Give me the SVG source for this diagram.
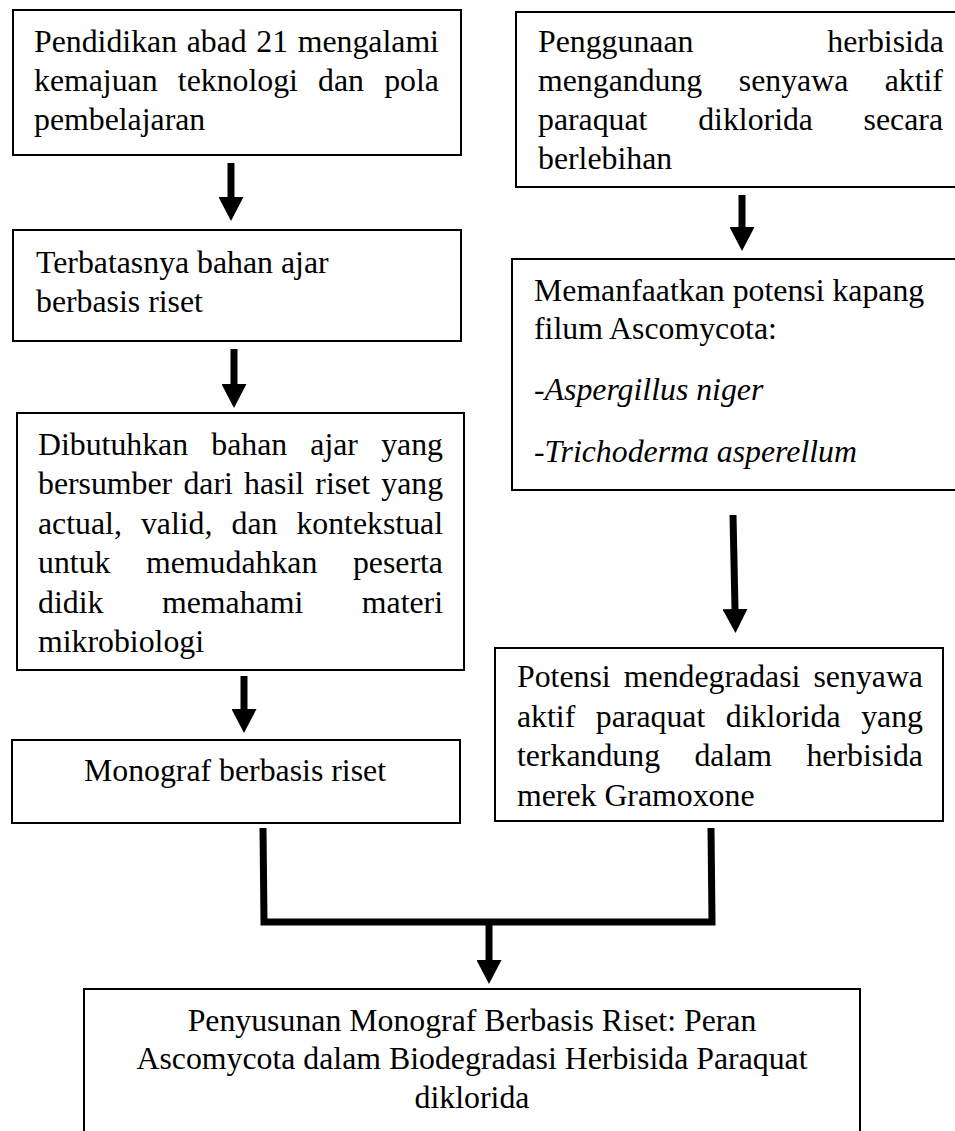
<svg xmlns="http://www.w3.org/2000/svg" width="955" height="1131" viewBox="0 0 955 1131">
<style>
.box{fill:#fff;stroke:#000;stroke-width:2}
text{font-family:"Liberation Serif","Times New Roman",serif;font-size:31.8px;fill:#000}
.it{font-style:italic}
.mid{text-anchor:middle}
.con{fill:none;stroke:#000;stroke-width:7}
</style>
<defs>
<marker id="ah" markerUnits="userSpaceOnUse" viewBox="0 0 24 25" markerWidth="24" markerHeight="25" refX="0" refY="12.5" orient="auto">
<path d="M0,0 L24,12.5 L0,25 Z" fill="#000"/>
</marker>
</defs>
<g id="connectors">
<line class="con" x1="231" y1="163" x2="231" y2="197" marker-end="url(#ah)"/>
<line class="con" x1="234" y1="349" x2="234" y2="384" marker-end="url(#ah)"/>
<line class="con" x1="244" y1="676" x2="244" y2="709" marker-end="url(#ah)"/>
<line class="con" x1="742" y1="195" x2="742" y2="227" marker-end="url(#ah)"/>
<line class="con" x1="733" y1="515" x2="735" y2="609" marker-end="url(#ah)"/>
<polyline class="con" points="263,828 264,922 712,922 711,828"/>
<line class="con" x1="489" y1="922" x2="489" y2="960" marker-end="url(#ah)"/>
</g>
<g id="n1">
<rect class="box" x="13" y="10" width="448" height="145"/>
<text y="52"><tspan x="34">Pendidikan</tspan><tspan x="186.7">abad</tspan><tspan x="256.3">21</tspan><tspan x="297.7">mengalami</tspan></text>
<text y="91"><tspan x="34">kemajuan</tspan><tspan x="177.8">teknologi</tspan><tspan x="318.1">dan</tspan><tspan x="384.2">pola</tspan></text>
<text x="34" y="130">pembelajaran</text>
</g>
<g id="n2">
<rect class="box" x="13" y="230" width="448" height="111"/>
<text x="36" y="273">Terbatasnya bahan ajar</text>
<text x="36" y="312">berbasis riset</text>
</g>
<g id="n3">
<rect class="box" x="17" y="413" width="447" height="257"/>
<text y="455"><tspan x="38">Dibutuhkan</tspan><tspan x="211.3">bahan</tspan><tspan x="310.3">ajar</tspan><tspan x="381.2">yang</tspan></text>
<text y="494.4"><tspan x="38">bersumber</tspan><tspan x="183.4">dari</tspan><tspan x="244">hasil</tspan><tspan x="315.3">riset</tspan><tspan x="381.3">yang</tspan></text>
<text y="533.8"><tspan x="38">actual,</tspan><tspan x="140.9">valid,</tspan><tspan x="231.5">dan</tspan><tspan x="296.4">kontekstual</tspan></text>
<text y="573.2"><tspan x="38">untuk</tspan><tspan x="146">memudahkan</tspan><tspan x="352.9">peserta</tspan></text>
<text y="612.6"><tspan x="38">didik</tspan><tspan x="162">memahami</tspan><tspan x="361.8">materi</tspan></text>
<text x="38" y="652">mikrobiologi</text>
</g>
<g id="n4">
<rect class="box" x="12" y="740" width="448" height="83"/>
<text class="mid" x="235" y="781">Monograf berbasis riset</text>
</g>
<g id="n5">
<rect class="box" x="516" y="12" width="445" height="175"/>
<text y="52"><tspan x="538">Penggunaan</tspan><tspan x="827.3">herbisida</tspan></text>
<text y="91"><tspan x="538">mengandung</tspan><tspan x="738.8">senyawa</tspan><tspan x="884.7">aktif</tspan></text>
<text y="130"><tspan x="538">paraquat</tspan><tspan x="698.2">diklorida</tspan><tspan x="863.6">secara</tspan></text>
<text x="538" y="169">berlebihan</text>
</g>
<g id="n6">
<rect class="box" x="512" y="259" width="449" height="231"/>
<text x="534" y="301">Memanfaatkan potensi kapang</text>
<text x="534" y="339">filum Ascomycota:</text>
<text x="534" y="400">-<tspan class="it">Aspergillus niger</tspan></text>
<text x="534" y="462">-<tspan class="it">Trichoderma asperellum</tspan></text>
</g>
<g id="n7">
<rect class="box" x="495" y="648" width="448" height="173"/>
<text y="687"><tspan x="517">Potensi</tspan><tspan x="623.8">mendegradasi</tspan><tspan x="813.5">senyawa</tspan></text>
<text y="726.5"><tspan x="517">aktif</tspan><tspan x="595.8">paraquat</tspan><tspan x="725.8">diklorida</tspan><tspan x="861.2">yang</tspan></text>
<text y="766"><tspan x="517">terkandung</tspan><tspan x="694.4">dalam</tspan><tspan x="806.4">herbisida</tspan></text>
<text x="517" y="805.5">merek Gramoxone</text>
</g>
<g id="n8">
<rect class="box" x="84" y="989" width="776" height="160"/>
<text class="mid" x="472" y="1031">Penyusunan Monograf Berbasis Riset: Peran</text>
<text class="mid" x="472" y="1069">Ascomycota dalam Biodegradasi Herbisida Paraquat</text>
<text class="mid" x="472" y="1108">diklorida</text>
</g>
</svg>
